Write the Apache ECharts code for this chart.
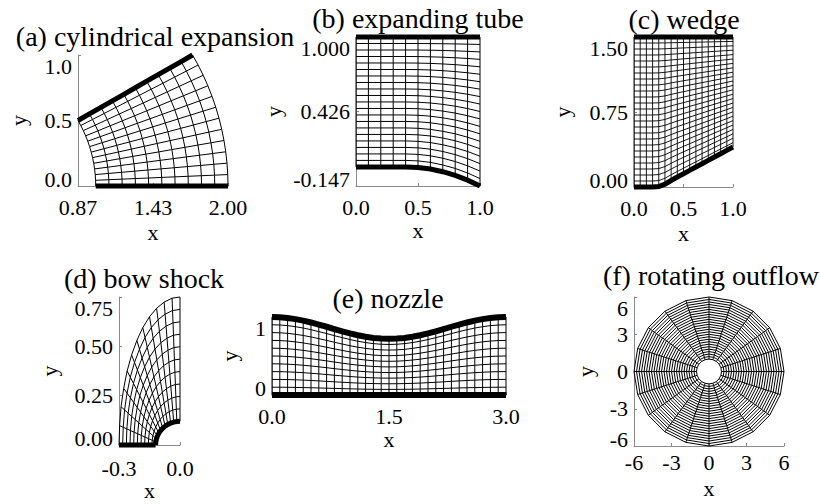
<!DOCTYPE html>
<html><head><meta charset="utf-8">
<script src="https://cdn.jsdelivr.net/npm/echarts@6/dist/echarts.min.js"></script>
<style>html,body{margin:0;padding:0;background:#fff}#c{width:820px;height:504px}</style>
</head><body><div id="c"></div>
<script>
// ---------- data ----------
// (a) cylindrical expansion: polar mesh
const aRadii = [1.0,1.1,1.2,1.3,1.4,1.5,1.6,1.7,1.8,1.9,2.0];
const aAnglesDeg = [0,2.5,5,7.5,10,12.5,15,17.5,20,22.5,25,27.5,30];
const aXTicks = [0.866,1.433,2.0], aXLabels = ['0.87','1.43','2.00'];
const aYTicks = [0,0.5,1.0], aYLabels = ['0.0','0.5','1.0'];

// (b) expanding tube
const bX = [0,0.1,0.2,0.3,0.4,0.5,0.6,0.7,0.8,0.9,1.0];
const bBottom = [0,0,0,0,0,-0.004,-0.016,-0.037,-0.065,-0.102,-0.147];
const bTopY = 1.0;
const bEta = [0,0.05,0.1,0.15,0.2,0.25,0.3,0.35,0.4,0.45,0.5,0.55,0.6,0.65,0.7,0.75,0.8,0.85,0.9,0.95,1.0];
const bXTicks = [0,0.5,1.0], bXLabels = ['0.0','0.5','1.0'];
const bYTicks = [-0.147,0.4265,1.0], bYLabels = ['-0.147','0.426','1.000'];

// (c) wedge
const cX = [0,0.0625,0.125,0.1875,0.25,0.3125,0.375,0.4375,0.5,0.5625,0.625,0.6875,0.75,0.8125,0.875,0.9375,1.0];
const cBottom = [0,0,0,0,0.005,0.028,0.065,0.1,0.133,0.166,0.2,0.233,0.266,0.3,0.333,0.366,0.4];
const cTopY = 1.5;
const cEta = [0,0.04,0.08,0.12,0.16,0.2,0.24,0.28,0.32,0.36,0.4,0.44,0.48,0.52,0.56,0.6,0.64,0.68,0.72,0.76,0.8,0.84,0.88,0.92,0.96,1.0];
const cXTicks = [0,0.5,1.0], cXLabels = ['0.0','0.5','1.0'];
const cYTicks = [0,0.75,1.5], cYLabels = ['0.00','0.75','1.50'];

// (d) bow shock
const dAnglesDeg = [0,7.5,15,22.5,30,37.5,45,52.5,60,67.5,75,82.5,90];
const dBodyR = 0.12;
const dShockX = [-0.300,-0.297,-0.290,-0.277,-0.260,-0.238,-0.212,-0.183,-0.150,-0.115,-0.078,-0.039,0.000];
const dShockY = [0.000,0.098,0.194,0.287,0.375,0.457,0.530,0.595,0.650,0.693,0.724,0.744,0.750];
const dS = [0,0.1,0.2,0.3,0.4,0.5,0.6,0.7,0.8,0.9,1.0];
const dXTicks = [-0.3,0], dXLabels = ['-0.3','0.0'];
const dYTicks = [0,0.25,0.5,0.75], dYLabels = ['0.00','0.25','0.50','0.75'];

// (e) nozzle
const eX = [0,0.1,0.2,0.3,0.4,0.5,0.6,0.7,0.8,0.9,1.0,1.1,1.2,1.3,1.4,1.5,1.6,1.7,1.8,1.9,2.0,2.1,2.2,2.3,2.4,2.5,2.6,2.7,2.8,2.9,3.0];
const eTop = [1.000,0.997,0.988,0.973,0.954,0.930,0.903,0.875,0.845,0.817,0.790,0.766,0.747,0.732,0.723,0.720,0.723,0.732,0.747,0.766,0.790,0.817,0.845,0.875,0.903,0.930,0.954,0.973,0.988,0.997,1.000];
const eEta = [0,0.1,0.2,0.3,0.4,0.5,0.6,0.7,0.8,0.9,1.0];
const eXTicks = [0,1.5,3.0], eXLabels = ['0.0','1.5','3.0'];
const eYTicks = [0,1], eYLabels = ['0','1'];

// (f) rotating outflow
const fRadii = [1.0,1.2,1.4,1.6,1.8,2.0,2.2,2.4,2.6,2.8,3.0,3.2,3.4,3.6,3.8,4.0,4.2,4.4,4.6,4.8,5.0,5.2,5.4,5.6,5.8,6.0];
const fAnglesDeg = [0,18,36,54,72,90,108,126,144,162,180,198,216,234,252,270,288,306,324,342];
const fTicks = [-6,-3,0,3,6], fLabels = ['-6','-3','0','3','6'];

// ---------- build mesh polylines ----------
const rad = d => d * Math.PI / 180;
const polar = (r, deg) => [r * Math.cos(rad(deg)), r * Math.sin(rad(deg))];

const aThin = [], aThick = [];
aAnglesDeg.forEach((t, i) => {
  const c = aRadii.map(r => polar(r, t));
  (i === 0 || i === aAnglesDeg.length - 1 ? aThick : aThin).push({coords: c});
});
aRadii.forEach(r => aThin.push({coords: aAnglesDeg.map(t => polar(r, t))}));

function tubeMesh(xs, bottom, topY, eta) {
  const thin = [], thick = [];
  xs.forEach((x, i) => thin.push({coords: [[x, bottom[i]], [x, topY]]}));
  eta.forEach((e, k) => {
    const c = xs.map((x, i) => [x, bottom[i] + (topY - bottom[i]) * e]);
    (k === 0 || k === eta.length - 1 ? thick : thin).push({coords: c});
  });
  return [thin, thick];
}
const [bThin, bThick] = tubeMesh(bX, bBottom, bTopY, bEta);
const [cThin, cThick] = tubeMesh(cX, cBottom, cTopY, cEta);

const dThin = [], dThick = [];
const dBody = dAnglesDeg.map(t => [-dBodyR * Math.cos(rad(t)), dBodyR * Math.sin(rad(t))]);
const dNode = (i, f) => [dBody[i][0] + (dShockX[i] - dBody[i][0]) * f, dBody[i][1] + (dShockY[i] - dBody[i][1]) * f];
dAnglesDeg.forEach((t, i) => {
  (i === 0 ? dThick : dThin).push({coords: dS.map(f => dNode(i, f))});
});
dS.forEach((f, k) => {
  (k === 0 ? dThick : dThin).push({coords: dAnglesDeg.map((t, i) => dNode(i, f))});
});

const eThin = [], eThick = [];
eX.forEach((x, i) => eThin.push({coords: [[x, 0], [x, eTop[i]]]}));
eEta.forEach((e, k) => {
  const c = eX.map((x, i) => [x, eTop[i] * e]);
  (k === 0 || k === eEta.length - 1 ? eThick : eThin).push({coords: c});
});

const fThin = [];
fAnglesDeg.forEach(t => fThin.push({coords: fRadii.map(r => polar(r, t))}));
fRadii.forEach(r => fThin.push({coords: fAnglesDeg.concat([fAnglesDeg[0]]).map(t => polar(r, t))}));

// ---------- chart ----------
const FONT = '"Liberation Serif", "Times New Roman", serif';
const AX = '#8a8a8a';
const ST = {fontFamily: FONT, fontSize: 22, color: '#000'};
const idxOf = (ticks, v) => { let b = 0; ticks.forEach((t, i) => { if (Math.abs(t - v) < Math.abs(ticks[b] - v)) b = i; }); return b; };

function xAxisCfg(i, min, max, ticks, labels, nameGap, margin) {
  return {type: 'value', gridIndex: i, min, max, name: 'x', nameLocation: 'middle', nameGap,
    nameMoveOverlap: false, nameTextStyle: ST,
    axisLine: {show: true, onZero: false, lineStyle: {color: AX, width: 1}},
    axisTick: {show: true, inside: true, length: 3, customValues: ticks, lineStyle: {color: AX, width: 1}},
    axisLabel: Object.assign({show: true, customValues: ticks, margin: margin, showMinLabel: true, showMaxLabel: true,
      hideOverlap: false, formatter: v => labels[idxOf(ticks, v)]}, ST),
    splitLine: {show: false}};
}
function yAxisCfg(i, min, max, ticks, labels, nameGap) {
  return {type: 'value', gridIndex: i, min, max, name: 'y', nameLocation: 'middle', nameGap, nameRotate: 90,
    nameMoveOverlap: false, nameTextStyle: ST,
    axisLine: {show: true, onZero: false, lineStyle: {color: AX, width: 1}},
    axisTick: {show: true, inside: true, length: 3, customValues: ticks, lineStyle: {color: AX, width: 1}},
    axisLabel: Object.assign({show: true, customValues: ticks, margin: 6, showMinLabel: true, showMaxLabel: true,
      hideOverlap: false, verticalAlignMaxLabel: 'top',
      formatter: v => { const k = idxOf(ticks, v); const tag = k === 0 ? 'b' : 'm'; return '{' + tag + '|' + labels[k] + '}'; },
      rich: {b: Object.assign({padding: [0, 0, 14, 0]}, ST), m: Object.assign({}, ST)}}, ST),
    splitLine: {show: false}};
}
function ls(i, data, width) {
  return {type: 'lines', coordinateSystem: 'cartesian2d', xAxisIndex: i, yAxisIndex: i, polyline: true,
    data, silent: true, clip: false, animation: false, lineStyle: {color: '#000', width, opacity: 1}};
}
function title(text, x, y) {
  return {type: 'text', x, y, silent: true, style: {text, font: '28px ' + FONT, fill: '#000', align: 'center', verticalAlign: 'middle'}};
}

const chart = echarts.init(document.getElementById('c'), null, {renderer: 'svg'});
chart.setOption({
  animation: false,
  backgroundColor: '#fff',
  grid: [
    {left: 78, top: 55, width: 150, height: 131, outerBoundsMode: 'none'},
    {left: 356, top: 37, width: 124, height: 149, outerBoundsMode: 'none'},
    {left: 634, top: 37, width: 99, height: 150, outerBoundsMode: 'none'},
    {left: 119, top: 297, width: 61, height: 148, outerBoundsMode: 'none'},
    {left: 272, top: 317, width: 234, height: 78, outerBoundsMode: 'none'},
    {left: 634, top: 297, width: 150, height: 149, outerBoundsMode: 'none'}
  ],
  xAxis: [
    xAxisCfg(0, 0.866, 2.0, aXTicks, aXLabels, 35, 10),
    xAxisCfg(1, 0, 1, bXTicks, bXLabels, 33, 10),
    xAxisCfg(2, 0, 1, cXTicks, cXLabels, 35, 10),
    xAxisCfg(3, -0.3, 0, dXTicks, dXLabels, 34, 12),
    xAxisCfg(4, 0, 3, eXTicks, eXLabels, 33, 10),
    xAxisCfg(5, -6, 6, fTicks, fLabels, 31, 5)
  ],
  yAxis: [
    yAxisCfg(0, 0, 1.0, aYTicks, aYLabels, 49),
    yAxisCfg(1, -0.147, 1.0, bYTicks, bYLabels, 72),
    yAxisCfg(2, 0, 1.5, cYTicks, cYLabels, 61),
    yAxisCfg(3, 0, 0.75, dYTicks, dYLabels, 59),
    yAxisCfg(4, 0, 1, eYTicks, eYLabels, 32),
    yAxisCfg(5, -6, 6, fTicks, fLabels, 38)
  ],
  graphic: [
    title('(a) cylindrical expansion', 155, 36),
    title('(b) expanding tube', 418, 18),
    title('(c) wedge', 684, 19),
    title('(d) bow shock', 144, 278),
    title('(e) nozzle', 388, 298),
    title('(f) rotating outflow', 711, 275)
  ],
  series: [
    ls(0, aThin, 1), ls(0, aThick, 5),
    ls(1, bThin, 1), ls(1, bThick, 5),
    ls(2, cThin, 0.9), ls(2, cThick, 5),
    ls(3, dThin, 1), ls(3, dThick, 5),
    ls(4, eThin, 1), ls(4, eThick, 6),
    ls(5, fThin, 1)
  ]
});
</script></body></html>
